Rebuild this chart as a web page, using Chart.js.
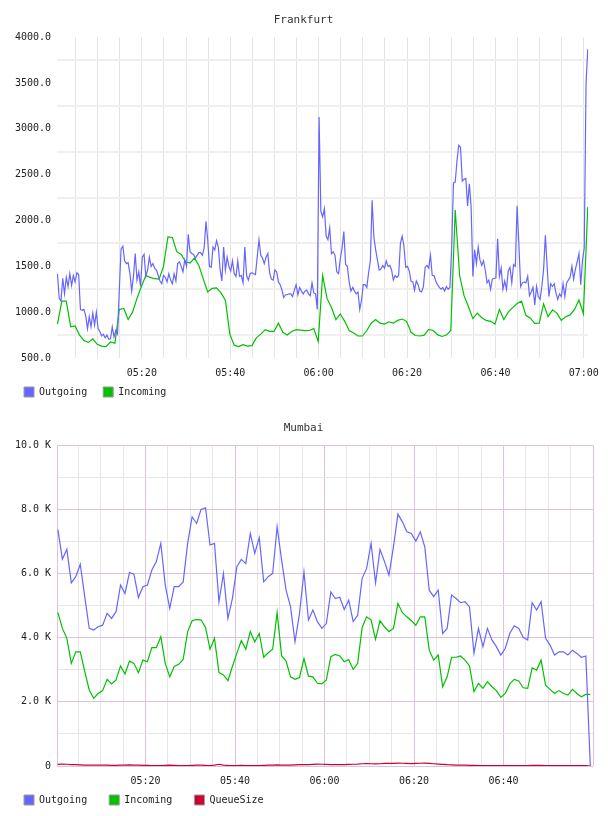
<!DOCTYPE html>
<html>
<head>
<meta charset="utf-8">
<title>Frankfurt / Mumbai</title>
<script src="https://cdn.jsdelivr.net/npm/chart.js@4.4.1/dist/chart.umd.min.js"></script>
<style>
  body { margin: 0; background: #ffffff; }
  canvas { position: absolute; left: 0; }
  #frankfurtChart { top: 0; }
  #mumbaiChart { top: 408px; }
</style>
</head>
<body>
<canvas id="frankfurtChart" width="608" height="408"></canvas>
<canvas id="mumbaiChart" width="608" height="408"></canvas>
<script>
// Sample times are minutes after 05:00
const frankOutStart = 0.9;
const frankOutStep = 0.4;
const frankInStart = 0.9;
const frankInStep = 1;
const mumbaiStart = 0.4;
const mumbaiStep = 1;

// Frankfurt traffic
const frankfurtOutgoing = [
    1420, 1150, 1120, 1370, 1200, 1380, 1280, 1420, 1290, 1400,
    1330, 1430, 1410, 1030, 1020, 1030, 960, 820, 950, 840,
    990, 860, 1000, 820, 790, 740, 760, 720, 750, 705,
    710, 840, 730, 800, 760, 1250, 1690, 1720, 1560, 1530,
    1540, 1420, 1230, 1390, 1640, 1350, 1440, 1280, 1600, 1630,
    1390, 1460, 1600, 1500, 1530, 1480, 1460, 1400, 1340, 1310,
    1400, 1380, 1330, 1420, 1350, 1310, 1420, 1340, 1530, 1550,
    1500, 1440, 1570, 1500, 1850,
    1660, 1640, 1630, 1590, 1620, 1650, 1650, 1620, 1700, 1990,
    1790, 1500, 1490, 1710, 1680, 1780, 1710, 1470, 1340, 1710,
    1460, 1600, 1500, 1450, 1560, 1420, 1390, 1560, 1390, 1400,
    1320, 1710, 1400, 1350, 1420, 1430, 1420, 1410, 1600, 1790,
    1620, 1590, 1530, 1600, 1640, 1430, 1360, 1350, 1460, 1440,
    1330, 1300, 1240, 1160, 1190, 1190, 1200, 1200, 1170, 1240,
    1300, 1190, 1270, 1230, 1200, 1230, 1240, 1200, 1180, 1320,
    1210, 1200, 1030, 3130, 2100,
    2040, 2130, 1830, 1790, 1920, 1640, 1660, 1620, 1440, 1420,
    1580, 1700, 1880, 1520, 1500, 1330, 1230, 1270, 1230, 1200,
    1220, 1030, 1130, 1300, 1300, 1270, 1430, 1560, 2220, 1820,
    1680, 1570, 1460, 1470, 1510, 1480, 1560, 1500, 1510, 1460,
    1350, 1400, 1380, 1400, 1750, 1830, 1720, 1490, 1500, 1450,
    1340, 1330, 1240, 1340, 1300, 1230, 1220, 1280, 1490, 1510,
    1480, 1620, 1400, 1400, 1340, 1300, 1270, 1250, 1270, 1230,
    1280, 1250, 1270, 1700, 2410,
    2420, 2650, 2820, 2800, 2430, 2450, 2460, 2160, 2400, 2150,
    1390, 1680, 1530, 1710, 1570, 1510, 1560, 1460, 1320, 1350,
    1250, 1360, 1370, 1370, 1800, 1390, 1480, 1250, 1340, 1250,
    1450, 1490, 1320, 1520, 1500, 2160, 1750, 1280, 1320, 1330,
    1320, 1390, 1180, 1220, 1270, 1080, 1280, 1170, 1140, 1280,
    1470, 1840, 1500, 1170, 1310, 1280, 1310, 1210, 1140, 1200,
    1170, 1310, 1170, 1320, 1350, 1380, 1500, 1360, 1470, 1550,
    1640, 1300, 1570, 1700, 3500, 3870
];
const frankfurtIncoming = [
    870, 1120, 1120, 840, 850, 750, 690, 670, 710, 650,
    630, 625, 675, 660, 1030, 1040, 920, 1000, 1150, 1280,
    1400, 1380, 1365, 1360, 1500, 1820, 1815, 1660, 1630, 1550,
    1535, 1590, 1510, 1360, 1220, 1260, 1265, 1210, 1130, 760,
    640, 624, 645, 630, 635, 720, 760, 810, 790, 790,
    880, 780, 750, 790, 810, 805, 798, 800, 820, 680,
    1400, 1150, 1050, 920, 980, 900, 800, 772, 740, 740,
    800, 880, 920, 880, 870, 895, 880, 910, 925, 900,
    780, 745, 740, 750, 813, 800, 755, 735, 750, 800,
    2114, 1400, 1180, 1060, 930, 990, 940, 910, 900, 870,
    1030, 920, 1000, 1050, 1095, 1120, 965, 935, 878, 880,
    1090, 950, 1025, 990, 910, 950, 970, 1030, 1133, 985,
    2150
];

// Mumbai traffic
const mumbaiOutgoing = [
    7370, 6450, 6750, 5710, 5900, 6290, 5280, 4290, 4240, 4340,
    4390, 4760, 4600, 4810, 5640, 5380, 6030, 5980, 5250, 5590,
    5640, 6110, 6370, 6940, 5640, 4910, 5590, 5590, 5740, 6940,
    7770, 7560, 8000, 8050, 6890, 6940, 5120, 6000, 4600, 5220,
    6210, 6440, 6310, 7250, 6630, 7120, 5740, 5900, 6000, 7460,
    6420, 5480, 4960, 3870, 4760, 6050, 4550, 4860, 4500, 4290,
    4440, 5430, 5220, 5260, 4880, 5170, 4500, 4700, 5850, 6160,
    6940, 5710, 6750, 6370, 5950, 6830, 7850, 7610, 7300, 7250,
    7010, 7300, 6830, 5480, 5280, 5480, 4130, 4290, 5330, 5220,
    5090, 5120, 4960, 3510, 4290, 3720, 4290, 3930, 3720, 3460,
    3670, 4130, 4370, 4290, 4010, 3930, 5090, 4860, 5120, 3980,
    3770, 3460, 3560, 3560, 3460, 3610, 3510, 3390, 3430, 0
];
const mumbaiIncoming = [
    4780, 4290, 3980, 3200, 3560, 3560, 2950, 2370, 2110, 2260,
    2350, 2700, 2560, 2680, 3120, 2870, 3270, 3200, 2910, 3300,
    3250, 3690, 3690, 4030, 3200, 2780, 3100, 3170, 3320, 4190,
    4530, 4570, 4550, 4320, 3640, 3980, 2910, 2840, 2660, 3100,
    3510, 3910, 3640, 4190, 3870, 4130, 3390, 3530, 3640, 4780,
    3440, 3270, 2780, 2700, 2760, 3350, 2800, 2780, 2580, 2560,
    2680, 3410, 3480, 3430, 3250, 3320, 3010, 3200, 4320, 4650,
    4550, 3950, 4530, 4340, 4190, 4290, 5070, 4780, 4650, 4530,
    4390, 4650, 4650, 3610, 3300, 3460, 2470, 2780, 3390, 3390,
    3430, 3300, 3120, 2320, 2580, 2420, 2630, 2470, 2350, 2140,
    2260, 2560, 2700, 2650, 2440, 2420, 3060, 2990, 3300, 2520,
    2390, 2260, 2350, 2260, 2210, 2390, 2260, 2160, 2230, 2230
];
const mumbaiQueueSize = [
    50, 60, 55, 45, 40, 35, 30, 25, 25, 30,
    30, 25, 20, 20, 25, 30, 35, 30, 25, 20,
    20, 15, 15, 15, 20, 25, 20, 15, 10, 15,
    20, 25, 30, 20, 15, 30, 55, 30, 20, 15,
    15, 20, 15, 10, 10, 15, 20, 25, 30, 35,
    30, 25, 30, 35, 40, 45, 40, 50, 60, 55,
    50, 45, 40, 40, 45, 50, 55, 60, 70, 75,
    70, 65, 70, 80, 85, 80, 90, 85, 80, 75,
    80, 85, 90, 80, 70, 60, 50, 40, 35, 30,
    30, 25, 20, 20, 15, 15, 10, 10, 10, 10,
    10, 10, 10, 10, 15, 15, 20, 20, 20, 15,
    15, 10, 10, 10, 10, 10, 10, 10, 10, 0
];

// Colours
const outgoingColor = '#6666ff';
const incomingColor = '#00c000';
const queueColor = '#cc0033';
const monoFont = "'DejaVu Sans Mono', monospace";
const textColor = '#222222';

// Turn a list of values into {x, y} points
function toPoints(values, start, step) {
    return values.map((v, i) => ({ x: start + i * step, y: v }));
}

// 20 -> "05:20"
function clockLabel(minutes) {
    const h = 5 + Math.floor(minutes / 60);
    const m = minutes % 60;
    return String(h).padStart(2, '0') + ':' + String(m).padStart(2, '0');
}

// Legend boxes get a grey outline; trailing spaces widen the gap between items
function legendLabels(gap) {
    return function (chart) {
        const items = Chart.defaults.plugins.legend.labels.generateLabels(chart);
        items.forEach(item => {
            item.strokeStyle = '#999999';
            item.lineWidth = 1;
            item.text = item.text + gap;
        });
        return items;
    };
}

function lineSet(label, points, color) {
    return {
        label: label,
        data: points,
        borderColor: color,
        backgroundColor: color,
        borderWidth: 1.2,
        pointRadius: 0,
        tension: 0
    };
}

function titleOptions(text) {
    return {
        display: true,
        text: text,
        color: '#333333',
        font: { family: monoFont, size: 11, weight: 'normal' },
        padding: { top: 14, bottom: 10 }
    };
}

function legendOptions(gap) {
    return {
        position: 'bottom',
        align: 'start',
        labels: {
            boxWidth: 10,
            boxHeight: 10,
            padding: 10,
            color: textColor,
            font: { family: monoFont, size: 10 },
            generateLabels: legendLabels(gap)
        }
    };
}

function timeTicks(showLast) {
    return {
        stepSize: 5,
        includeBounds: false,
        autoSkip: false,
        maxRotation: 0,
        padding: 9,
        color: textColor,
        font: { family: monoFont, size: 10 },
        callback: (v) => v % 20 === 0 && (showLast || v < 120) ? clockLabel(v) : ''
    };
}

// Frankfurt chart
let frankfurtChart;
function initializeFrankfurt() {
    const ctx = document.getElementById('frankfurtChart').getContext('2d');
    frankfurtChart = new Chart(ctx, {
        type: 'line',
        data: {
            datasets: [
                lineSet('Outgoing', toPoints(frankfurtOutgoing, frankOutStart, frankOutStep), outgoingColor),
                lineSet('Incoming', toPoints(frankfurtIncoming, frankInStart, frankInStep), incomingColor)
            ]
        },
        options: {
            responsive: false,
            animation: false,
            devicePixelRatio: 1,
            layout: { padding: { left: 14, right: 15, top: 0, bottom: 1 } },
            plugins: {
                title: titleOptions('Frankfurt'),
                legend: legendOptions(' '),
                tooltip: { enabled: false }
            },
            scales: {
                x: {
                    type: 'linear',
                    min: 0.8,
                    max: 121,
                    afterFit: (scale) => { scale.height = 19; },
                    border: { display: false },
                    grid: { drawTicks: false, color: '#e4e4e4', lineWidth: 1 },
                    ticks: timeTicks(true)
                },
                y: {
                    min: 500,
                    max: 4000,
                    afterFit: (scale) => { scale.width = 43; },
                    border: { display: false },
                    grid: {
                        drawTicks: false,
                        lineWidth: 2,
                        color: (c) => c.tick && c.tick.value % 500 !== 0 ? '#efefef' : 'rgba(0,0,0,0)'
                    },
                    ticks: {
                        stepSize: 250,
                        autoSkip: false,
                        padding: 6,
                        color: textColor,
                        font: { family: monoFont, size: 10 },
                        callback: (v) => v % 500 === 0 ? v.toFixed(1) : ''
                    }
                }
            }
        }
    });
}

// Mumbai chart
let mumbaiChart;
function initializeMumbai() {
    const ctx = document.getElementById('mumbaiChart').getContext('2d');
    const major = '#dcc2dc';
    const minor = '#e6e6e6';
    mumbaiChart = new Chart(ctx, {
        type: 'line',
        data: {
            datasets: [
                lineSet('Outgoing', toPoints(mumbaiOutgoing, mumbaiStart, mumbaiStep), outgoingColor),
                lineSet('Incoming', toPoints(mumbaiIncoming, mumbaiStart, mumbaiStep), incomingColor),
                lineSet('QueueSize', toPoints(mumbaiQueueSize, mumbaiStart, mumbaiStep), queueColor)
            ]
        },
        options: {
            responsive: false,
            animation: false,
            devicePixelRatio: 1,
            layout: { padding: { left: 14, right: 15, top: 0, bottom: 1 } },
            plugins: {
                title: titleOptions('Mumbai'),
                legend: legendOptions('  '),
                tooltip: { enabled: false }
            },
            scales: {
                x: {
                    type: 'linear',
                    min: 0.2,
                    max: 120,
                    afterFit: (scale) => { scale.height = 19; },
                    border: { display: false },
                    grid: {
                        drawTicks: false,
                        lineWidth: 1,
                        color: (c) => c.tick && c.tick.value % 20 === 0 ? major : minor
                    },
                    ticks: timeTicks(false)
                },
                y: {
                    min: 0,
                    max: 10000,
                    afterFit: (scale) => { scale.width = 43; },
                    border: { display: true, color: major },
                    grid: {
                        drawTicks: false,
                        lineWidth: 1,
                        color: (c) => c.tick && c.tick.value % 2000 === 0 ? major : minor
                    },
                    ticks: {
                        stepSize: 1000,
                        autoSkip: false,
                        padding: 6,
                        color: textColor,
                        font: { family: monoFont, size: 10 },
                        callback: (v) => {
                            if (v % 2000 !== 0) return '';
                            return v === 0 ? '0' : (v / 1000).toFixed(1) + ' K';
                        }
                    }
                }
            }
        }
    });
}

initializeFrankfurt();
initializeMumbai();
</script>
</body>
</html>
